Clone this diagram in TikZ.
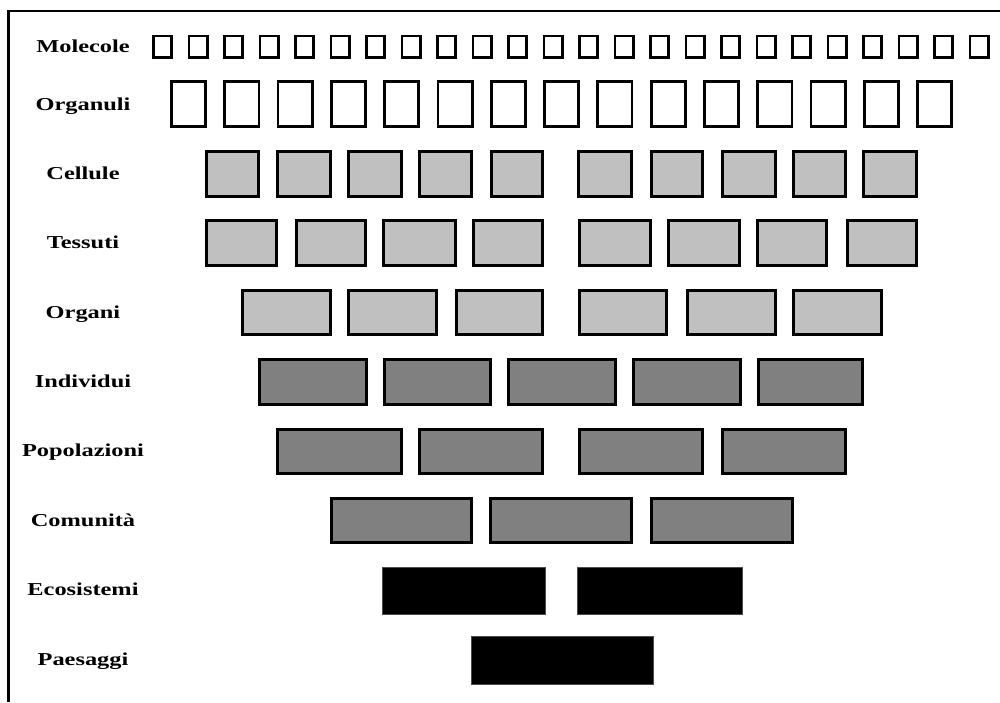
\documentclass[tikz,border=0pt]{standalone}
\usepackage{fontspec}
\newfontfamily\labfont[FakeStretch=1.34]{Liberation Serif Bold}
\definecolor{lightg}{HTML}{C0C0C0}
\definecolor{midg}{HTML}{808080}
\begin{document}
\begin{tikzpicture}[x=0.5pt,y=-0.5pt,
  lab/.style={font={\labfont\fontsize{9.1}{10}\selectfont}, anchor=base, inner sep=0pt},
  openbox/.style={draw=black, fill=white, line width=1.4pt},
  lightbox/.style={draw=black, fill=lightg, line width=1.4pt},
  midbox/.style={draw=black, fill=midg, line width=1.4pt},
  darkbox/.style={draw=black!70, fill=black, line width=0.4pt},
  frameline/.style={draw=black, line width=1.3pt}]
\useasboundingbox (0,0) rectangle (1000,702);
\fill[white] (0,0) rectangle (1000,702);
% frame (top and left)
\draw[frameline] (1000,10.8) -- (8.7,10.8) -- (8.7,702);
% labels
\node[lab] (molecole) at (83,52.5) {Molecole};
\node[lab] (organuli) at (83,110) {Organuli};
\node[lab] (cellule) at (83,179.5) {Cellule};
\node[lab] (tessuti) at (83,248.5) {Tessuti};
\node[lab] (organi) at (83,318) {Organi};
\node[lab] (individui) at (83,387.5) {Individui};
\node[lab] (popolazioni) at (83,456.5) {Popolazioni};
\node[lab] (comunita) at (83,526) {Comunità};
\node[lab] (ecosistemi) at (83,595.5) {Ecosistemi};
\node[lab] (paesaggi) at (83,665) {Paesaggi};
% Molecole
\foreach \i in {0,...,23}
  \draw[openbox] ({152+35.5*\i+1.4},35.9) rectangle ({152+35.5*\i+19.6},57.6);
% Organuli
\foreach \i in {0,...,14}
  \draw[openbox] ({170+53.3*\i+1.4},81.4) rectangle ({170+53.3*\i+35.6},126.6);
% Cellule
\foreach \a/\b in {205/260,276/332,347/403,418/473,490/544,577/633,650/704,721/777,792/847,862/918}
  \draw[lightbox] ({\a+1.4},151.4) rectangle ({\b-1.4},196.6);
% Tessuti
\foreach \a/\b in {205/278,295/367,382/457,472/544,578/652,667/741,756/828,846/918}
  \draw[lightbox] ({\a+1.4},220.4) rectangle ({\b-1.4},265.6);
% Organi
\foreach \a/\b in {241/332,347/438,455/544,578/668,686/777,792/883}
  \draw[lightbox] ({\a+1.4},290.4) rectangle ({\b-1.4},334.6);
% Individui
\foreach \a/\b in {258/368,383/492,507/617,632/742,757/864}
  \draw[midbox] ({\a+1.4},359.4) rectangle ({\b-1.4},404.6);
% Popolazioni
\foreach \a/\b in {276/403,418/544,578/704,721/847}
  \draw[midbox] ({\a+1.4},429.4) rectangle ({\b-1.4},473.6);
% Comunita
\foreach \a/\b in {330/473,489/633,650/794}
  \draw[midbox] ({\a+1.4},498.4) rectangle ({\b-1.4},542.6);
% Ecosistemi
\foreach \a/\b in {382/545,577/742}
  \draw[darkbox] (\a,567) rectangle (\b,614);
% Paesaggi
\draw[darkbox] (471,636) rectangle (653,684);
\end{tikzpicture}
\end{document}
